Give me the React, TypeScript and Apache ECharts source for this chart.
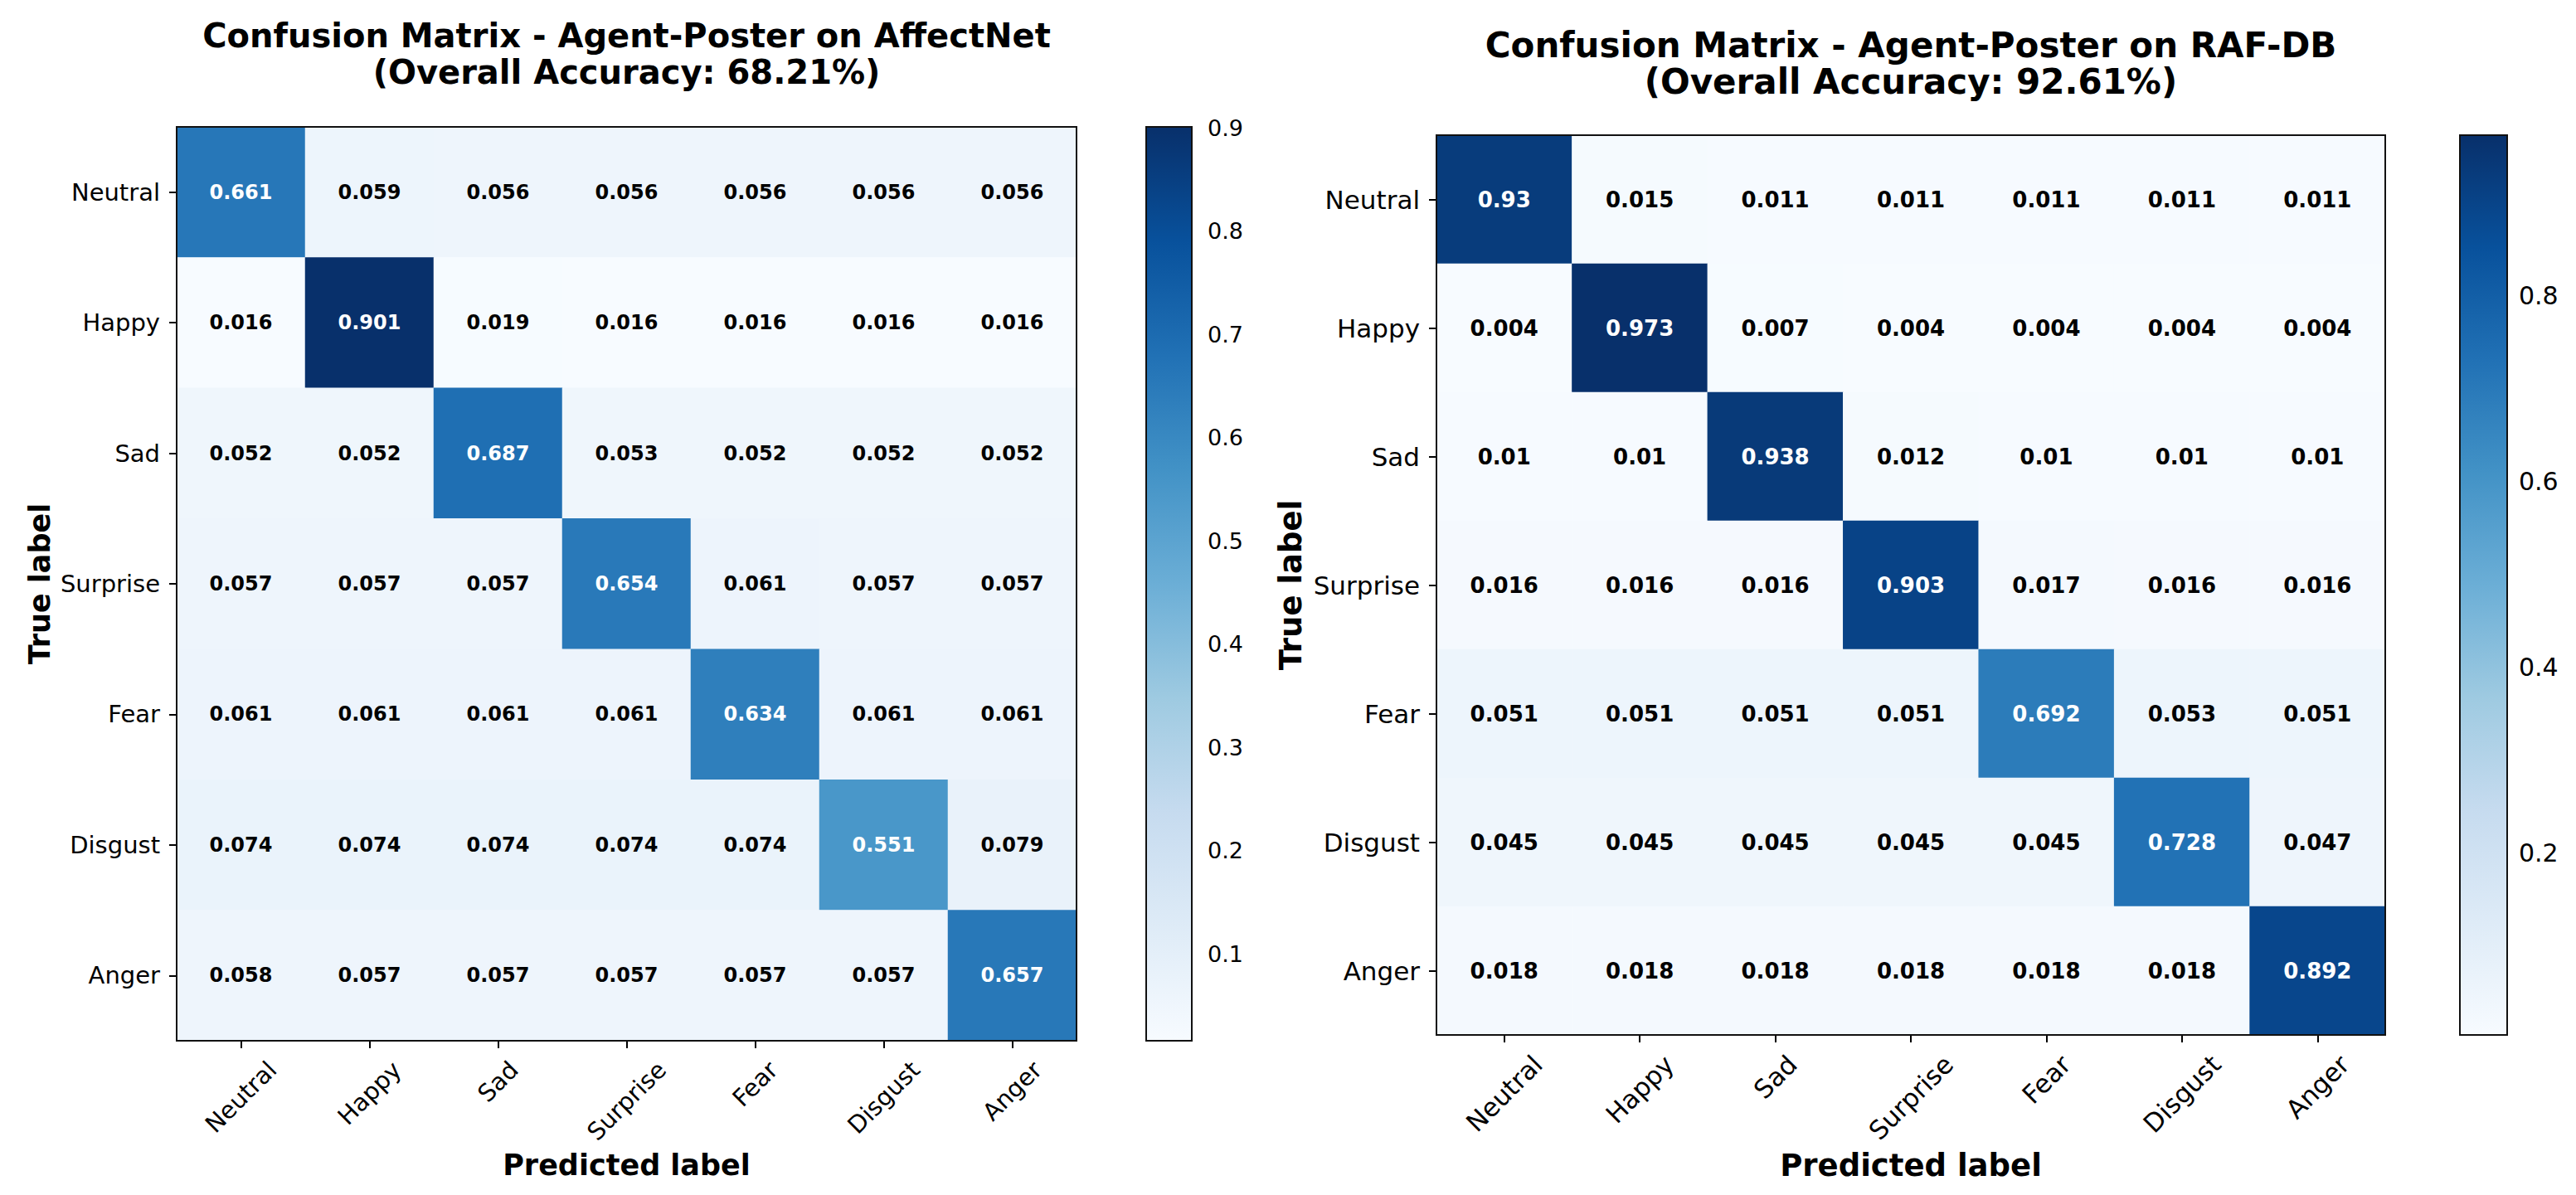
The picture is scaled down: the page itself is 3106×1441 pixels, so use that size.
import React, { useEffect, useRef } from "react";
import * as echarts from "echarts";

// ---------------- data ----------------
const emotions = ["Neutral", "Happy", "Sad", "Surprise", "Fear", "Disgust", "Anger"];

const affectNetMatrix = [
  [0.661, 0.059, 0.056, 0.056, 0.056, 0.056, 0.056],
  [0.016, 0.901, 0.019, 0.016, 0.016, 0.016, 0.016],
  [0.052, 0.052, 0.687, 0.053, 0.052, 0.052, 0.052],
  [0.057, 0.057, 0.057, 0.654, 0.061, 0.057, 0.057],
  [0.061, 0.061, 0.061, 0.061, 0.634, 0.061, 0.061],
  [0.074, 0.074, 0.074, 0.074, 0.074, 0.551, 0.079],
  [0.058, 0.057, 0.057, 0.057, 0.057, 0.057, 0.657],
];

const rafdbMatrix = [
  [0.93, 0.015, 0.011, 0.011, 0.011, 0.011, 0.011],
  [0.004, 0.973, 0.007, 0.004, 0.004, 0.004, 0.004],
  [0.01, 0.01, 0.938, 0.012, 0.01, 0.01, 0.01],
  [0.016, 0.016, 0.016, 0.903, 0.017, 0.016, 0.016],
  [0.051, 0.051, 0.051, 0.051, 0.692, 0.053, 0.051],
  [0.045, 0.045, 0.045, 0.045, 0.045, 0.728, 0.047],
  [0.018, 0.018, 0.018, 0.018, 0.018, 0.018, 0.892],
];

const affectNetTitle = "Confusion Matrix - Agent-Poster on AffectNet\n(Overall Accuracy: 68.21%)";
const rafdbTitle = "Confusion Matrix - Agent-Poster on RAF-DB\n(Overall Accuracy: 92.61%)";

const affectNetColorbarTicks = [0.1, 0.2, 0.3, 0.4, 0.5, 0.6, 0.7, 0.8, 0.9];
const rafdbColorbarTicks = [0.2, 0.4, 0.6, 0.8];

const xAxisTitle = "Predicted label";
const yAxisTitle = "True label";

// matplotlib "Blues"
const bluesStops = [
  "#f7fbff", "#deebf7", "#c6dbef", "#9ecae1", "#6baed6",
  "#4292c6", "#2171b5", "#08519c", "#08306b",
];

// ---------------- layout / style ----------------
const FONT = '"DejaVu Sans", "Liberation Sans", sans-serif';

const panels = [
  {
    matrix: affectNetMatrix,
    title: affectNetTitle,
    ticks: affectNetColorbarTicks,
    plot: { x: 213, y: 153, w: 1085, h: 1102 },
    cbar: { x: 1382, y: 153, w: 55, h: 1102 },
    titleY: 65, titleSize: 40, titleLH: 44,
    tickSize: 29, cellSize: 24, nameSize: 35, cbarSize: 27,
    xNameGap: 130, yNameGap: 148, xLabelMargin: 30, cbarMargin: 19,
  },
  {
    matrix: rafdbMatrix,
    title: rafdbTitle,
    ticks: rafdbColorbarTicks,
    plot: { x: 1732, y: 163, w: 1144, h: 1085 },
    cbar: { x: 2966, y: 163, w: 57, h: 1085 },
    titleY: 76, titleSize: 42, titleLH: 44,
    tickSize: 31, cellSize: 26, nameSize: 37, cbarSize: 30,
    xNameGap: 127, yNameGap: 157, xLabelMargin: 30, cbarMargin: 14,
  },
];

function measure(text: string, size: number): number {
  const c = document.createElement("canvas");
  const ctx = c.getContext("2d");
  if (!ctx) return text.length * size * 0.55;
  ctx.font = `${size}px "DejaVu Sans"`;
  return ctx.measureText(text).width;
}

function buildOption() {
  const grid: any[] = [];
  const xAxis: any[] = [];
  const yAxis: any[] = [];
  const series: any[] = [];
  const visualMap: any[] = [];
  const graphic: any[] = [];

  panels.forEach((p) => {
    const flat = p.matrix.flat();
    const vmin = Math.min(...flat);
    const vmax = Math.max(...flat);
    const thresh = vmax / 2;
    const gi = grid.length;

    grid.push({
      left: p.plot.x, top: p.plot.y, width: p.plot.w, height: p.plot.h,
      containLabel: false, outerBoundsMode: "none",
    });
    grid.push({
      left: p.cbar.x, top: p.cbar.y, width: p.cbar.w, height: p.cbar.h,
      containLabel: false, outerBoundsMode: "none",
    });

    const rich: any = {};
    emotions.forEach((e, i) => {
      const w = measure(e, p.tickSize);
      rich["c" + i] = {
        fontSize: p.tickSize, fontFamily: FONT, color: "#000",
        padding: [w / 2, w / 2, 0, 0],
      };
    });

    xAxis.push({
      gridIndex: gi, type: "category", data: emotions, position: "bottom",
      axisLine: { show: false },
      axisTick: { show: true, alignWithLabel: true, length: 9, lineStyle: { color: "#000", width: 2 } },
      axisLabel: {
        interval: 0, rotate: 45, align: "center", verticalAlign: "middle",
        margin: p.xLabelMargin, fontSize: p.tickSize, fontFamily: FONT, color: "#000",
        formatter: (v: string, idx: number) => `{c${idx}|${v}}`,
        rich,
      },
      splitLine: { show: false },
      name: xAxisTitle, nameLocation: "middle", nameGap: p.xNameGap,
      nameTextStyle: { fontSize: p.nameSize, fontWeight: "bold", fontFamily: FONT, color: "#000" },
    });
    xAxis.push({ gridIndex: gi + 1, type: "value", min: 0, max: 1, show: false });

    yAxis.push({
      gridIndex: gi, type: "category", data: emotions, inverse: true,
      axisLine: { show: false },
      axisTick: { show: true, alignWithLabel: true, length: 9, lineStyle: { color: "#000", width: 2 } },
      axisLabel: { margin: 20, fontSize: p.tickSize, fontFamily: FONT, color: "#000" },
      splitLine: { show: false },
      name: yAxisTitle, nameLocation: "middle", nameGap: p.yNameGap, nameRotate: 90,
      nameTextStyle: { fontSize: p.nameSize, fontWeight: "bold", fontFamily: FONT, color: "#000" },
    });
    yAxis.push({
      gridIndex: gi + 1, type: "value", position: "right", min: vmin, max: vmax,
      splitLine: { show: false },
      axisLine: { show: false },
      axisTick: { show: true, length: 9, lineStyle: { color: "#000", width: 2 }, customValues: p.ticks },
      axisLabel: {
        customValues: p.ticks, margin: p.cbarMargin, fontSize: p.cbarSize, fontFamily: FONT, color: "#000",
        formatter: (v: number) => v.toFixed(1),
      },
    });

    const heatIndex = series.length;
    series.push({
      type: "heatmap", xAxisIndex: gi, yAxisIndex: gi,
      data: p.matrix.flatMap((row, i) =>
        row.map((v, j) => ({ value: [j, i, v], label: { color: v > thresh ? "#fff" : "#000" } }))
      ),
      label: {
        show: true, fontSize: p.cellSize, fontWeight: "bold", fontFamily: FONT,
        formatter: (d: any) => String(d.value[2]),
      },
      emphasis: { disabled: true },
      itemStyle: { borderWidth: 0 },
    });
    series.push({
      type: "custom", xAxisIndex: gi + 1, yAxisIndex: gi + 1, silent: true,
      data: [[0, vmin, vmax]],
      renderItem: (_params: any, api: any) => {
        const a = api.coord([0, api.value(1)]);
        const b = api.coord([1, api.value(2)]);
        return {
          type: "rect",
          shape: { x: a[0], y: b[1], width: b[0] - a[0], height: a[1] - b[1] },
          style: {
            fill: new echarts.graphic.LinearGradient(
              0, 1, 0, 0,
              bluesStops.map((c, k) => ({ offset: k / (bluesStops.length - 1), color: c }))
            ),
          },
        };
      },
    });

    visualMap.push({
      type: "continuous", show: false, seriesIndex: heatIndex, dimension: 2,
      min: vmin, max: vmax, inRange: { color: bluesStops },
    });

    graphic.push({
      type: "rect", silent: true, z: 100,
      shape: { x: p.plot.x, y: p.plot.y, width: p.plot.w, height: p.plot.h },
      style: { fill: "none", stroke: "#111", lineWidth: 2 },
    });
    graphic.push({
      type: "rect", silent: true, z: 100,
      shape: { x: p.cbar.x, y: p.cbar.y, width: p.cbar.w, height: p.cbar.h },
      style: { fill: "none", stroke: "#111", lineWidth: 2 },
    });
    graphic.push({
      type: "text", silent: true, z: 100,
      x: p.plot.x + p.plot.w / 2, y: p.titleY,
      style: {
        text: p.title, fill: "#000", fontSize: p.titleSize, fontWeight: "bold", fontFamily: FONT,
        align: "center", verticalAlign: "middle", lineHeight: p.titleLH,
      },
    });
  });

  return {
    animation: false,
    backgroundColor: "#fff",
    grid, xAxis, yAxis, series, visualMap, graphic,
  };
}

export default function App() {
  const ref = useRef<HTMLDivElement>(null);
  useEffect(() => {
    document.body.style.margin = "0";
    if (!ref.current) return;
    const chart = echarts.init(ref.current, null, { renderer: "svg" });
    chart.setOption(buildOption() as any);
    return () => chart.dispose();
  }, []);
  return <div ref={ref} style={{ width: 3106, height: 1441 }} />;
}
